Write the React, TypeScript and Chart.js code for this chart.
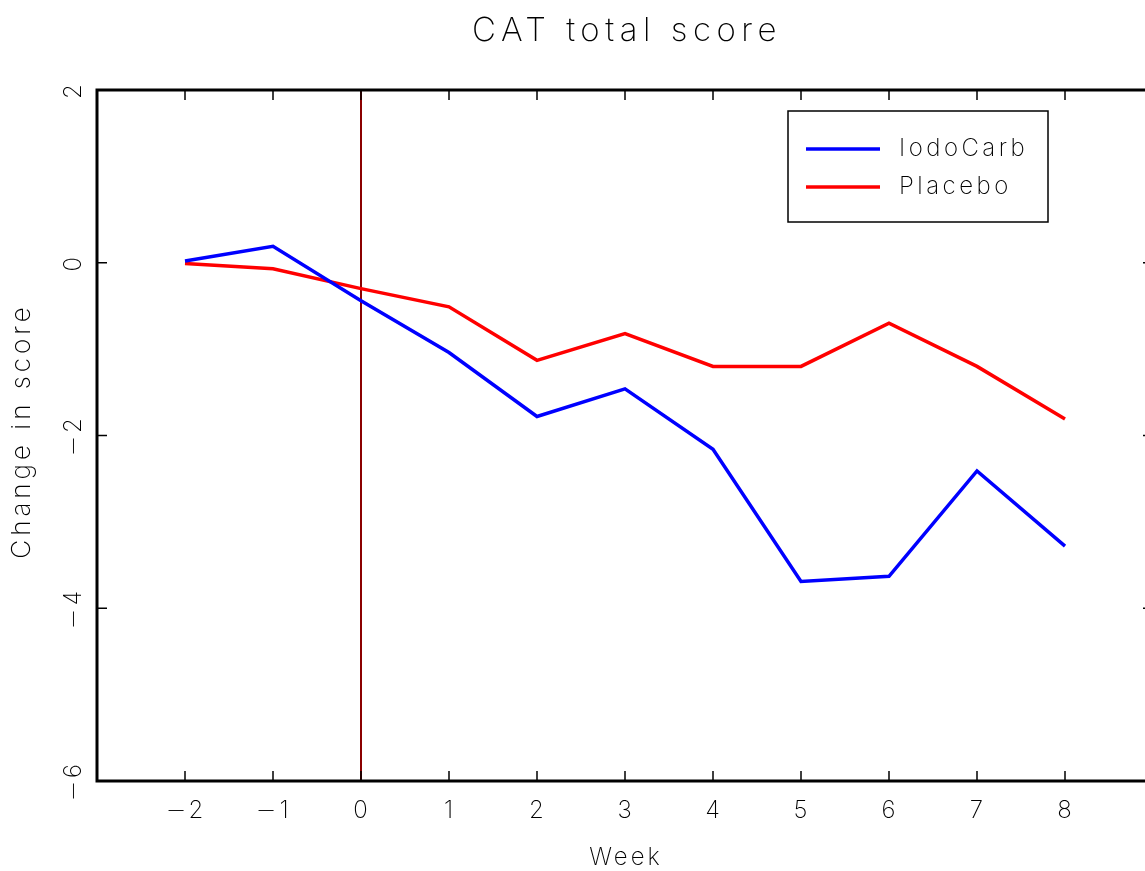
import React, { useEffect, useRef } from 'react';
import { Chart, registerables } from 'chart.js';

Chart.register(...registerables);

const weeks = [-2, -1, 0, 1, 2, 3, 4, 5, 6, 7, 8];
const iodoCarb = [0.02, 0.19, -0.44, -1.04, -1.78, -1.46, -2.16, -3.69, -3.63, -2.41, -3.28];
const placebo = [-0.01, -0.07, -0.3, -0.51, -1.13, -0.82, -1.2, -1.2, -0.7, -1.2, -1.81];
const xTicks = [-2, -1, 0, 1, 2, 3, 4, 5, 6, 7, 8];
const yTicks = [2, 0, -2, -4, -6];
const seriesLabels = ['IodoCarb', 'Placebo'];
const seriesColors = ['#0000ff', '#ff0000'];
const markerWeek = 0;
const titleText = 'CAT total score';
const xTitleText = 'Week';
const yTitleText = 'Change in score';

const FONT = 'MinusFix, Inter, "DejaVu Sans", sans-serif';
const W = '200';

const fmt = (v: number) => (v < 0 ? '\u2212' + Math.abs(v) : String(v));

const drawPlugin = {
  id: 'customDraw',
  beforeDatasetsDraw(chart: any) {
    const { ctx, chartArea, scales } = chart;
    const x = scales.x;
    ctx.save();
    ctx.strokeStyle = '#8b0000';
    ctx.lineWidth = 2;
    const px = x.getPixelForValue(markerWeek);
    ctx.beginPath();
    ctx.moveTo(px, chartArea.top);
    ctx.lineTo(px, chartArea.bottom);
    ctx.stroke();
    ctx.restore();
  },
  afterDraw(chart: any) {
    const { ctx, chartArea, scales } = chart;
    const x = scales.x;
    const y = scales.y;
    const { left, right, top, bottom } = chartArea;
    ctx.save();
    ctx.strokeStyle = '#000';
    ctx.lineWidth = 3;
    ctx.beginPath();
    ctx.moveTo(left, top);
    ctx.lineTo(right, top);
    ctx.lineTo(right, bottom);
    ctx.lineTo(left, bottom);
    ctx.closePath();
    ctx.stroke();
    ctx.lineWidth = 1.5;
    ctx.beginPath();
    xTicks.forEach((t) => {
      const p = x.getPixelForValue(t);
      ctx.moveTo(p, bottom);
      ctx.lineTo(p, bottom - 10);
      ctx.moveTo(p, top);
      ctx.lineTo(p, top + 10);
    });
    yTicks.forEach((t) => {
      const p = y.getPixelForValue(t);
      ctx.moveTo(left, p);
      ctx.lineTo(left + 10, p);
      ctx.moveTo(right, p);
      ctx.lineTo(right - 10, p);
    });
    ctx.stroke();

    ctx.fillStyle = '#000';
    (ctx as any).letterSpacing = '3px';
    ctx.font = `${W} 24px ${FONT}`;
    ctx.textAlign = 'center';
    ctx.textBaseline = 'middle';
    xTicks.forEach((t) => {
      ctx.fillText(fmt(t), x.getPixelForValue(t) + 1, 811);
    });
    yTicks.forEach((t) => {
      ctx.save();
      ctx.translate(74, y.getPixelForValue(t));
      ctx.rotate(-Math.PI / 2);
      ctx.fillText(fmt(t), 0, 0);
      ctx.restore();
    });
    (ctx as any).letterSpacing = '5.5px';
    ctx.font = `${W} 33px ${FONT}`;
    ctx.fillText(titleText, (left + right) / 2 + 2, 31);
    (ctx as any).letterSpacing = '3px';
    ctx.font = `${W} 24px ${FONT}`;
    ctx.fillText(xTitleText, (left + right) / 2 + 1, 858);
    ctx.save();
    (ctx as any).letterSpacing = '4px';
    ctx.font = `${W} 26px ${FONT}`;
    ctx.translate(22, 431);
    ctx.rotate(-Math.PI / 2);
    ctx.fillText(yTitleText, 0, 0);
    ctx.restore();

    const lx = 788, ly = 111, lw = 260, lh = 111;
    ctx.lineWidth = 1.5;
    ctx.strokeStyle = '#000';
    ctx.strokeRect(lx, ly, lw, lh);
    ctx.textAlign = 'left';
    (ctx as any).letterSpacing = '3.5px';
    ctx.font = `${W} 24px ${FONT}`;
    chart.data.datasets.forEach((ds: any, i: number) => {
      const yy = 149 + i * 38;
      ctx.strokeStyle = ds.borderColor;
      ctx.lineWidth = 3.5;
      ctx.beginPath();
      ctx.moveTo(806, yy);
      ctx.lineTo(880, yy);
      ctx.stroke();
      ctx.fillText(ds.label, 899, yy);
    });
    ctx.restore();
  },
};

export default function App() {
  const ref = useRef<HTMLCanvasElement>(null);
  useEffect(() => {
    let chart: Chart | null = null;
    let cancelled = false;
    const build = () => {
      if (cancelled || !ref.current) return;
      chart = new Chart(ref.current, {
        type: 'line',
        data: {
          datasets: [
            {
              label: seriesLabels[0],
              data: weeks.map((w, i) => ({ x: w, y: iodoCarb[i] })),
              borderColor: seriesColors[0],
              borderWidth: 3.5,
              pointRadius: 0,
              tension: 0,
            },
            {
              label: seriesLabels[1],
              data: weeks.map((w, i) => ({ x: w, y: placebo[i] })),
              borderColor: seriesColors[1],
              borderWidth: 3.5,
              pointRadius: 0,
              tension: 0,
            },
          ],
        },
        options: {
          animation: false,
          responsive: false,
          devicePixelRatio: 1,
          layout: { padding: { left: 97, top: 90, right: 7, bottom: 90 } },
          scales: {
            x: { type: 'linear', min: -3, max: 9, display: false },
            y: { type: 'linear', min: -6, max: 2, display: false },
          },
          plugins: {
            legend: { display: false },
            title: { display: false },
            tooltip: { enabled: false },
          },
        },
        plugins: [drawPlugin],
      });
    };
    try {
      const ff = new FontFace('MinusFix', 'local("DejaVu Sans ExtraLight"), local("DejaVuSans-ExtraLight"), local("DejaVu Sans")', {
        unicodeRange: 'U+2212',
        weight: '100 900',
      } as any);
      ff.load()
        .then((f) => {
          (document as any).fonts.add(f);
        })
        .catch(() => {})
        .finally(build);
    } catch (e) {
      build();
    }
    return () => {
      cancelled = true;
      if (chart) chart.destroy();
    };
  }, []);
  return (
    <div style={{ position: 'fixed', left: 0, top: 0, width: 1145, height: 871, overflow: 'hidden', background: '#fff' }}>
      <canvas ref={ref} width={1160} height={871} style={{ display: 'block', width: 1160, height: 871 }} />
    </div>
  );
}
